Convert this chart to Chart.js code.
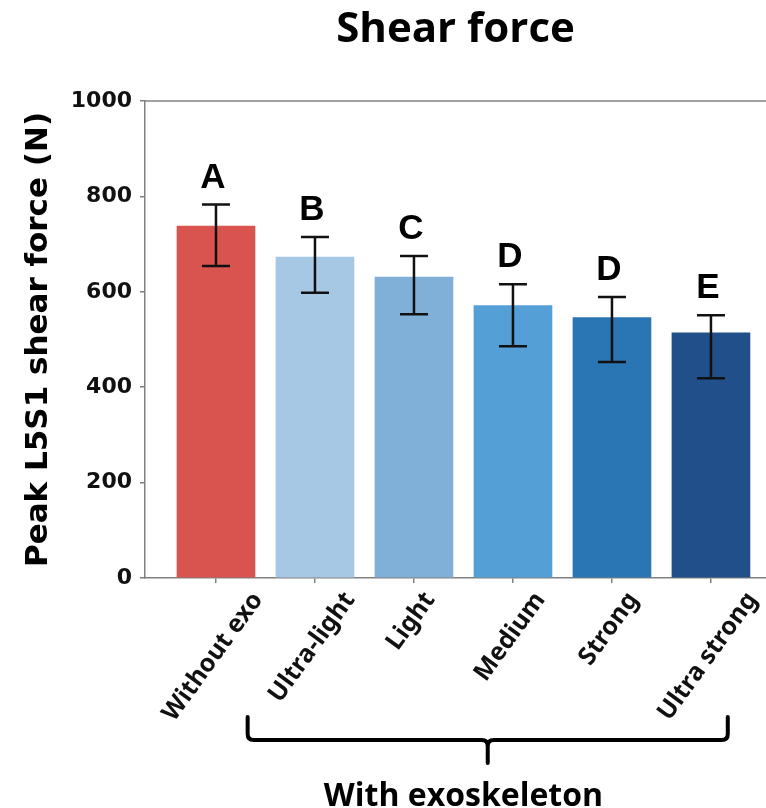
<!DOCTYPE html>
<html>
<head>
  <title>Shear force</title>
  <script src="https://cdn.jsdelivr.net/npm/chart.js"></script>
  <style>
    body { margin: 0; background: #fff; }
    #wrap { width: 766px; height: 808px; }
  </style>
</head>
<body>
<div id="wrap"><canvas id="myChart" width="766" height="808"></canvas></div>

<script>
  // values
  const categories = ['Without exo', 'Ultra-light', 'Light', 'Medium', 'Strong', 'Ultra strong'];
  const meanForce = [738, 673, 631, 571, 546, 514];
  const errLow = [654, 598, 553, 486, 453, 419];
  const errHigh = [783, 715, 675, 616, 589, 551];
  const groupLetters = ['A', 'B', 'C', 'D', 'D', 'E'];
  const yTicks = [0, 200, 400, 600, 800, 1000];
  const groupLabel = 'With exoskeleton';

  const barColors = ['#d9534f', '#a7c8e4', '#80afd8', '#559fd7', '#2a76b5', '#204f8a'];
  const axisGray = '#808080';

  // error bars + letters above them
  const errorBars = {
    id: 'errorBars',
    afterDatasetsDraw(chart) {
      const ctx = chart.ctx, x = chart.scales.x, y = chart.scales.y;
      ctx.save();
      ctx.strokeStyle = '#111';
      ctx.lineWidth = 2.5;
      meanForce.forEach((v, i) => {
        const px = x.getPixelForValue(i);
        const top = y.getPixelForValue(errHigh[i]);
        const bot = y.getPixelForValue(errLow[i]);
        ctx.beginPath();
        ctx.moveTo(px, top); ctx.lineTo(px, bot);
        ctx.moveTo(px - 14, top); ctx.lineTo(px + 14, top);
        ctx.moveTo(px - 14, bot); ctx.lineTo(px + 14, bot);
        ctx.stroke();

        ctx.fillStyle = '#000';
        ctx.font = 'bold 35px "Liberation Sans", Arial, sans-serif';
        ctx.textAlign = 'center';
        ctx.textBaseline = 'alphabetic';
        ctx.fillText(groupLetters[i], px - 3, top - 17);
      });
      ctx.restore();
    }
  };

  // rotated category labels, top border, brace underneath
  const extras = {
    id: 'extras',
    afterDraw(chart) {
      const ctx = chart.ctx, x = chart.scales.x, area = chart.chartArea;
      ctx.save();

      // top spine only (no right spine in the figure)
      ctx.strokeStyle = axisGray;
      ctx.lineWidth = 1.5;
      ctx.beginPath();
      ctx.moveTo(area.left, area.top);
      ctx.lineTo(chart.width, area.top);
      ctx.stroke();

      // tick labels, rotated and centred on the tick
      const ang = 54 * Math.PI / 180;
      const fs = 25;
      ctx.font = 'bold ' + fs + 'px "Noto Sans", "Open Sans", sans-serif';
      ctx.fillStyle = '#111';
      ctx.textAlign = 'center';
      ctx.textBaseline = 'middle';
      categories.forEach((lab, i) => {
        const px = x.getPixelForValue(i);
        const w = ctx.measureText(lab).width, h = fs;
        const bh = w * Math.sin(ang) + h * Math.cos(ang);
        ctx.save();
        ctx.translate(px - 3, area.bottom + 10 + bh / 2);
        ctx.rotate(-ang);
        ctx.fillText(lab, 0, 0);
        ctx.restore();
      });

      // curly brace under the exoskeleton conditions
      const x0 = x.getPixelForValue(0.32), x1 = x.getPixelForValue(5.17);
      const xm = (x0 + x1) / 2;
      const yTop = 717, yLine = 740, yTip = 763, r = 6;
      ctx.strokeStyle = '#000';
      ctx.lineWidth = 4;
      ctx.lineCap = 'round';
      ctx.beginPath();
      ctx.moveTo(x0, yTop);
      ctx.lineTo(x0, yLine - r);
      ctx.quadraticCurveTo(x0, yLine, x0 + r, yLine);
      ctx.lineTo(xm - r, yLine);
      ctx.quadraticCurveTo(xm, yLine, xm, yLine + r);
      ctx.lineTo(xm, yTip);
      ctx.moveTo(xm, yLine + r);
      ctx.quadraticCurveTo(xm, yLine, xm + r, yLine);
      ctx.lineTo(x1 - r, yLine);
      ctx.quadraticCurveTo(x1, yLine, x1, yLine - r);
      ctx.lineTo(x1, yTop);
      ctx.stroke();

      ctx.fillStyle = '#000';
      ctx.font = 'bold 32px "Open Sans", "Noto Sans", sans-serif';
      ctx.textAlign = 'center';
      ctx.textBaseline = 'alphabetic';
      ctx.fillText(groupLabel, x.getPixelForValue(2.5), 806);
      ctx.restore();
    }
  };

  new Chart(document.getElementById('myChart'), {
    type: 'bar',
    data: {
      datasets: [{
        data: meanForce.map((v, i) => ({ x: i, y: v })),
        backgroundColor: barColors,
        borderWidth: 0,
        barThickness: 78
      }]
    },
    options: {
      responsive: false,
      animation: false,
      layout: { padding: 0 },
      plugins: {
        legend: { display: false },
        tooltip: { enabled: false },
        title: {
          display: true,
          text: 'Shear force',
          fullSize: false,
          color: '#000',
          font: { family: '"Open Sans", sans-serif', size: 42, weight: 'bold' },
          padding: { top: 5, bottom: 45.6 }
        }
      },
      scales: {
        x: {
          type: 'linear',
          offset: false,
          min: -0.717,
          max: 5.556,
          afterBuildTicks: axis => { axis.ticks = categories.map((c, i) => ({ value: i })); },
          afterFit: scale => { scale.height = 230; },
          ticks: { display: false },
          grid: { offset: false, drawOnChartArea: false, drawTicks: true, tickLength: 5, color: axisGray, lineWidth: 1.5 },
          border: { color: axisGray, width: 1.5 }
        },
        y: {
          min: 0,
          max: 1000,
          afterBuildTicks: axis => { axis.ticks = yTicks.map(v => ({ value: v })); },
          afterFit: scale => { scale.width = 145; },
          ticks: {
            color: '#111',
            padding: 8,
            callback: v => String(v),
            font: { family: '"DejaVu Sans", sans-serif', size: 22, weight: 'bold' }
          },
          grid: { drawOnChartArea: false, drawTicks: true, tickLength: 5, color: axisGray, lineWidth: 1.5 },
          border: { color: axisGray, width: 1.5 },
          title: {
            display: true,
            text: 'Peak L5S1 shear force (N)',
            color: '#000',
            padding: { top: 20, bottom: 0 },
            font: { family: '"DejaVu Sans", sans-serif', size: 31, weight: 'bold' }
          }
        }
      }
    },
    plugins: [errorBars, extras]
  });
</script>
</body>
</html>
